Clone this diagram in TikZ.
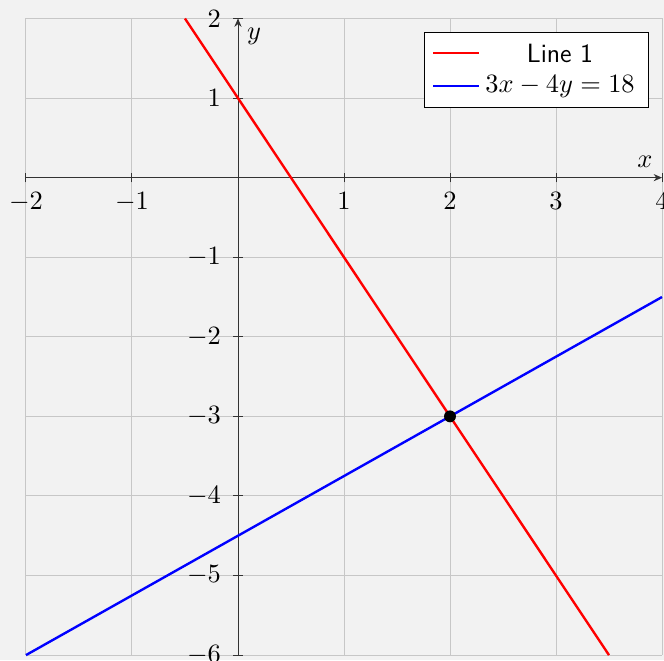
\RequirePackage{fix-cm}
\documentclass[tikz,border=0pt]{standalone}
\usetikzlibrary{arrows.meta}
\definecolor{bggray}{RGB}{242,242,242}
\begin{document}
\begin{tikzpicture}[x=44.52pt,y=33.42pt,
  every node/.style={font=\fontsize{11.1pt}{13pt}\selectfont},
  gridline/.style={black!22,line width=0.4pt},
  axisline/.style={black!80,line width=0.4pt,-{Stealth[length=3.5pt,width=3pt]}},
  tickmark/.style={black!80,line width=0.4pt},
  xtick/.style={anchor=base,inner sep=0pt,yshift=-13.5pt},
  ytick/.style={anchor=east,inner sep=0pt,xshift=-7pt},
  plotline/.style={line width=1pt},
  legendbox/.style={draw=black,fill=white,line width=0.4pt}]
\useasboundingbox[fill=bggray] (-2.245,-6.063) rectangle (4.019,2.2325);
% grid
\foreach \x in {-2,...,4} \draw[gridline] (\x,-6) -- (\x,2);
\foreach \y in {-6,...,2} \draw[gridline] (-2,\y) -- (4,\y);
% axes
\coordinate (xs) at (-2,0); \coordinate (xe) at (4,0);
\coordinate (ys) at (0,-6); \coordinate (ye) at (0,2);
\draw[axisline] (xs) -- (xe);
\draw[axisline] (ys) -- (ye);
\node (xlab) at (3.84,0.195) {$x$};
\node (ylab) at (0.151,1.779) {$y$};
% ticks
\foreach \x in {-2,-1,1,2,3,4} {
  \draw[tickmark] (\x,0) ++(0,-2pt) -- ++(0,4pt);
  \node[xtick] (xt\x) at (\x,0) {$\pgfmathprintnumber{\x}$};
}
\foreach \y in {-6,...,-1,1,2} {
  \draw[tickmark] (0,\y) ++(-2pt,0) -- ++(4pt,0);
  \node[ytick] (yt\y) at (0,\y) {$\pgfmathprintnumber{\y}$};
}
% lines
\coordinate (r1) at (-0.5,2); \coordinate (r2) at (3.5,-6);
\coordinate (b1) at (-2,-6); \coordinate (b2) at (4,-1.5);
\draw[plotline,red] (r1) -- (r2);
\draw[plotline,blue] (b1) -- (b2);
\fill (2,-3) circle[radius=2.5pt] node (pt) {};
% legend
\draw[legendbox] (1.755,0.886) rectangle (3.877,1.829);
\coordinate (l1a) at (1.840,1.565); \coordinate (l1b) at (2.274,1.565);
\coordinate (l2a) at (1.840,1.150); \coordinate (l2b) at (2.274,1.150);
\draw[plotline,red] (l1a) -- (l1b);
\draw[plotline,blue] (l2a) -- (l2b);
\node (leg1) at (3.038,1.565) {\sffamily Line 1};
\node (leg2) at (3.038,1.150) {$3x-4y=18$};
\end{tikzpicture}
\end{document}
